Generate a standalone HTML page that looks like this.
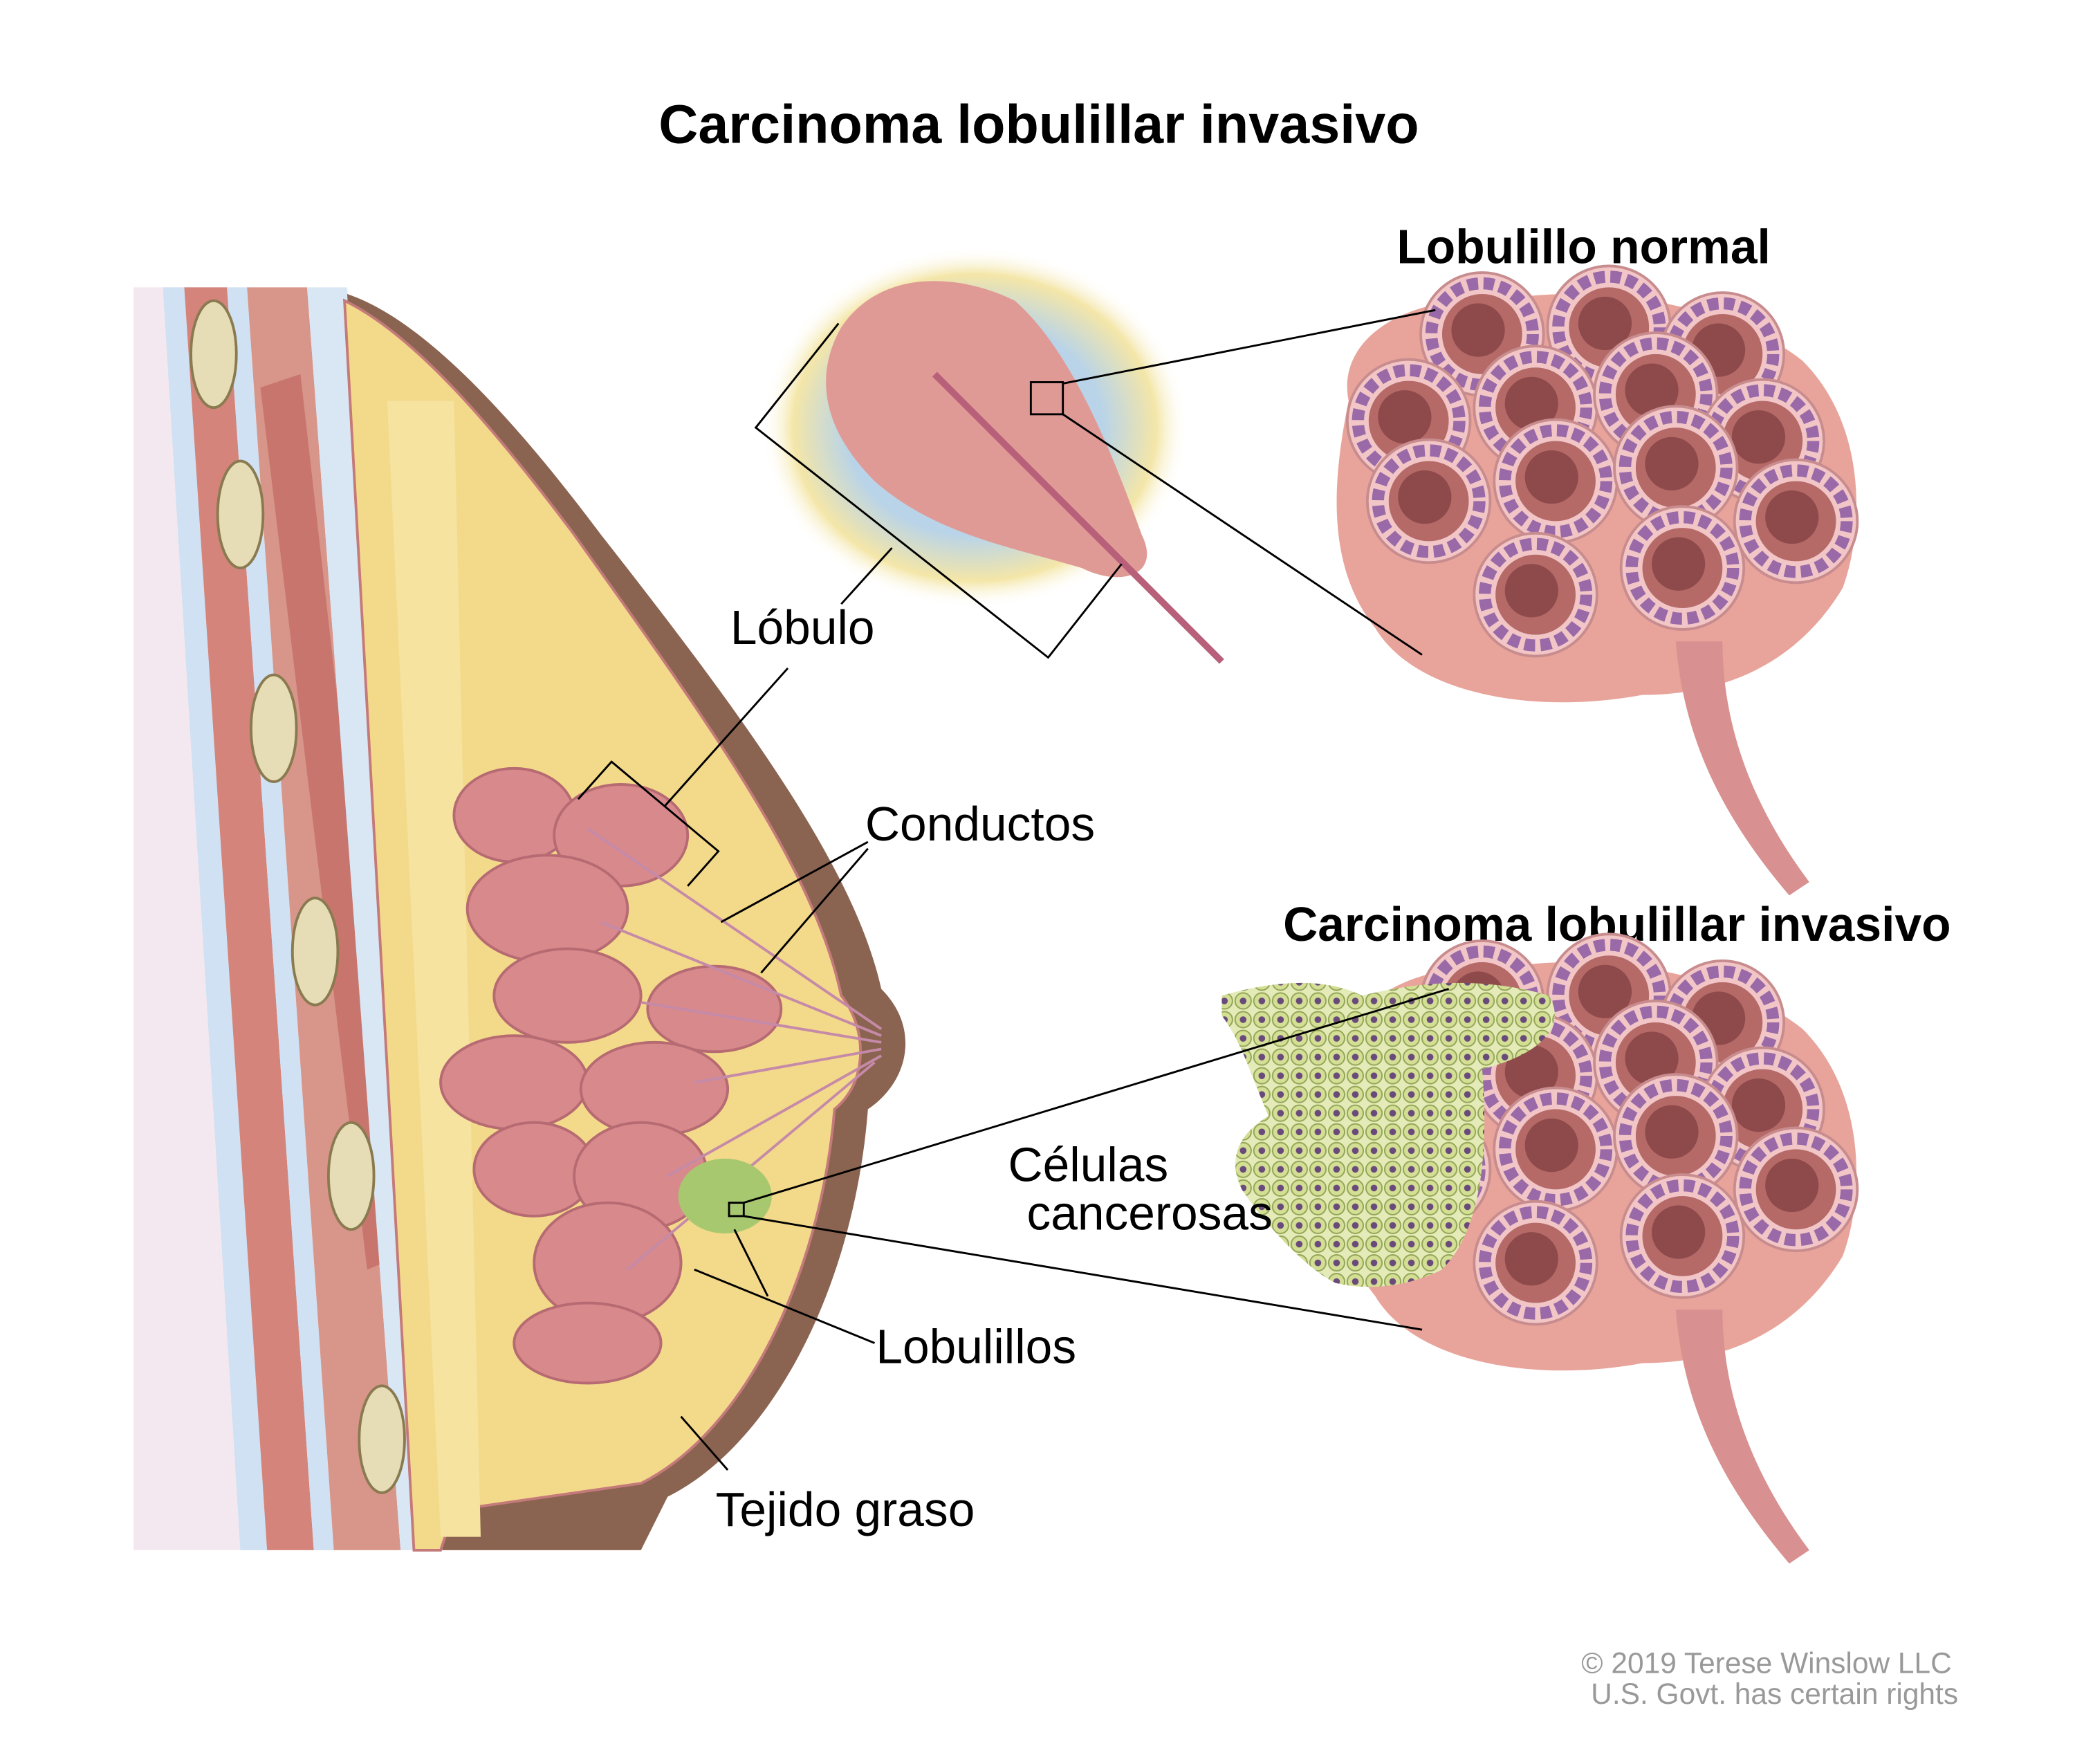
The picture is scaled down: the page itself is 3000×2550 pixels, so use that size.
<!DOCTYPE html>
<html><head><meta charset="utf-8"><style>
html,body{margin:0;padding:0;background:#fff}
svg{display:block}
text{font-family:"Liberation Sans",Arial,sans-serif;fill:#000}
.b{font-weight:bold}
</style></head><body>
<svg width="3000" height="2550" viewBox="0 0 1554 1320" preserveAspectRatio="none" xmlns="http://www.w3.org/2000/svg">
<defs>
<radialGradient id="halo" cx="50%" cy="50%" r="50%">
<stop offset="0.6" stop-color="#b9d4e8"/><stop offset="0.85" stop-color="#f4e6a8"/><stop offset="1" stop-color="#fff" stop-opacity="0"/>
</radialGradient>
<pattern id="cells" width="14" height="14" patternUnits="userSpaceOnUse">
<rect width="14" height="14" fill="#e4ebb8"/>
<circle cx="7" cy="7" r="6" fill="#d3df94" stroke="#93a456" stroke-width="1"/>
<circle cx="7" cy="7" r="2.5" fill="#6a4a7a"/>
</pattern>
<g id="acin">
<circle r="46" fill="#f2c6c6" stroke="#c88c8e" stroke-width="2"/>
<circle r="38" fill="none" stroke="#9a6aa8" stroke-width="9" stroke-dasharray="8 4"/>
<circle r="30" fill="#b56a68"/>
<circle r="20" cx="-3" cy="-3" fill="#8e4a4a"/>
</g>
<g id="cluster">
<path d="M1010,300 C1000,250 1060,220 1120,225 C1200,210 1300,230 1350,270 C1400,320 1395,400 1380,440 C1350,490 1300,520 1230,520 C1150,535 1060,520 1030,470 C990,420 1000,350 1010,300Z" fill="#e8a49a"/>
<path d="M1255,480 C1260,540 1280,600 1340,670 L1355,660 C1310,600 1290,540 1290,480Z" fill="#d99090"/>
<use href="#acin" x="1110" y="250"/><use href="#acin" x="1205" y="245"/><use href="#acin" x="1290" y="265"/>
<use href="#acin" x="1055" y="315"/><use href="#acin" x="1150" y="305"/><use href="#acin" x="1240" y="295"/><use href="#acin" x="1320" y="330"/>
<use href="#acin" x="1070" y="375"/><use href="#acin" x="1165" y="360"/><use href="#acin" x="1255" y="350"/><use href="#acin" x="1345" y="390"/>
<use href="#acin" x="1150" y="445"/><use href="#acin" x="1260" y="425"/>
</g>
</defs>

<text x="778" y="107" text-anchor="middle" class="b" font-size="41">Carcinoma lobulillar invasivo</text>
<text x="1186" y="197" text-anchor="middle" class="b" font-size="36">Lobulillo normal</text>
<text x="1211" y="704" text-anchor="middle" class="b" font-size="36">Carcinoma lobulillar invasivo</text>

<rect x="100" y="215" width="80" height="945" fill="#f4e8f0"/>
<polygon points="122,215 140,215 200,1160 180,1160" fill="#cfe1f2"/>
<polygon points="138,215 170,215 235,1160 200,1160" fill="#d4847a"/>
<polygon points="170,215 185,215 250,1160 235,1160" fill="#cfe1f2"/>
<polygon points="185,215 230,215 300,1160 250,1160" fill="#d8958a"/>
<polygon points="195,290 225,280 300,940 275,950" fill="#c8756d"/>
<polygon points="230,215 260,215 320,1160 300,1160" fill="#d9e6f4"/>
<g fill="#e6dcb6" stroke="#8a7a50" stroke-width="2">
<ellipse cx="160" cy="265" rx="17" ry="40"/><ellipse cx="180" cy="385" rx="17" ry="40"/>
<ellipse cx="205" cy="545" rx="17" ry="40"/><ellipse cx="236" cy="712" rx="17" ry="40"/>
<ellipse cx="263" cy="880" rx="17" ry="40"/><ellipse cx="286" cy="1077" rx="17" ry="40"/>
</g>
<path d="M260,220 C320,240 390,320 450,400 C560,540 640,650 660,740 C690,770 680,810 650,830 C640,960 580,1080 500,1120 L480,1160 L320,1160 Z" fill="#8a6450"/>
<path d="M258,225 C310,250 370,320 430,400 C530,540 610,650 630,745 C650,770 650,810 625,830 C615,950 560,1070 480,1110 L340,1130 L330,1160 L310,1160 Z" fill="#f3d98a" stroke="#c47a7a" stroke-width="2"/>
<path d="M290,300 L340,300 L360,1150 L330,1150Z" fill="#f6e3a0"/>
<g fill="#d8898c" stroke="#b66a72" stroke-width="2">
<ellipse cx="385" cy="610" rx="45" ry="35"/><ellipse cx="465" cy="625" rx="50" ry="38"/>
<ellipse cx="410" cy="680" rx="60" ry="40"/><ellipse cx="425" cy="745" rx="55" ry="35"/>
<ellipse cx="535" cy="755" rx="50" ry="32"/><ellipse cx="385" cy="810" rx="55" ry="35"/>
<ellipse cx="490" cy="815" rx="55" ry="35"/><ellipse cx="400" cy="875" rx="45" ry="35"/>
<ellipse cx="480" cy="880" rx="50" ry="40"/><ellipse cx="455" cy="945" rx="55" ry="45"/>
<ellipse cx="440" cy="1005" rx="55" ry="30"/>
</g>
<g stroke="#c58aa8" stroke-width="2" fill="none">
<path d="M440,620 L660,770"/><path d="M450,690 L660,775"/><path d="M480,750 L660,780"/>
<path d="M520,810 L660,785"/><path d="M500,880 L660,790"/><path d="M470,950 L655,795"/>
</g>
<ellipse cx="543" cy="895" rx="35" ry="28" fill="#a8c870"/>
<rect x="546" y="900" width="11" height="10" fill="none" stroke="#000" stroke-width="1.5"/>

<ellipse cx="730" cy="320" rx="160" ry="135" fill="url(#halo)"/>
<path d="M630,245 C660,200 720,205 760,225 C800,260 830,330 855,400 C870,430 840,440 810,425 C760,410 700,400 655,360 C615,320 610,280 630,245Z" fill="#e09a96"/>
<path d="M700,280 C760,340 820,400 915,495" stroke="#b8607a" stroke-width="5" fill="none"/>
<rect x="772" y="286" width="24" height="24" fill="none" stroke="#000" stroke-width="1.5"/>
<path d="M628,242 L566,320 L785,492 L840,422" stroke="#000" stroke-width="1.5" fill="none"/>

<use href="#cluster"/>
<use href="#cluster" y="500"/>
<path d="M915,745 C950,735 990,730 1020,745 C1060,735 1110,730 1160,745 C1175,770 1150,790 1110,800 C1115,860 1110,920 1080,950 C1050,965 1020,965 1000,960 C980,950 950,920 930,890 C920,870 925,850 950,835 C935,800 930,780 915,760 Z" fill="url(#cells)"/>

<g stroke="#000" stroke-width="1.5" fill="none">
<path d="M796,287 L1075,232"/><path d="M796,310 L1065,490"/>
<path d="M557,900 L1085,740"/><path d="M557,910 L1065,995"/>
<path d="M433,598 L458,570 L538,637 L515,663"/>
<path d="M498,603 L590,500"/><path d="M668,410 L630,452"/>
<path d="M540,690 L650,630"/><path d="M570,728 L650,635"/>
<path d="M550,920 L575,970"/><path d="M520,950 L655,1005"/>
<path d="M510,1060 L545,1100"/>
</g>

<text x="601" y="482" text-anchor="middle" font-size="36">Lóbulo</text>
<text x="734" y="629" text-anchor="middle" font-size="36">Conductos</text>
<text x="815" y="884" text-anchor="middle" font-size="36">Células</text>
<text x="861" y="920" text-anchor="middle" font-size="36">cancerosas</text>
<text x="731" y="1020" text-anchor="middle" font-size="36">Lobulillos</text>
<text x="633" y="1142" text-anchor="middle" font-size="36">Tejido graso</text>
<text x="1323" y="1252" text-anchor="middle" font-size="22" style="fill:#999">© 2019 Terese Winslow LLC</text>
<text x="1329" y="1275" text-anchor="middle" font-size="22" style="fill:#999">U.S. Govt. has certain rights</text>
</svg>
</body></html>
